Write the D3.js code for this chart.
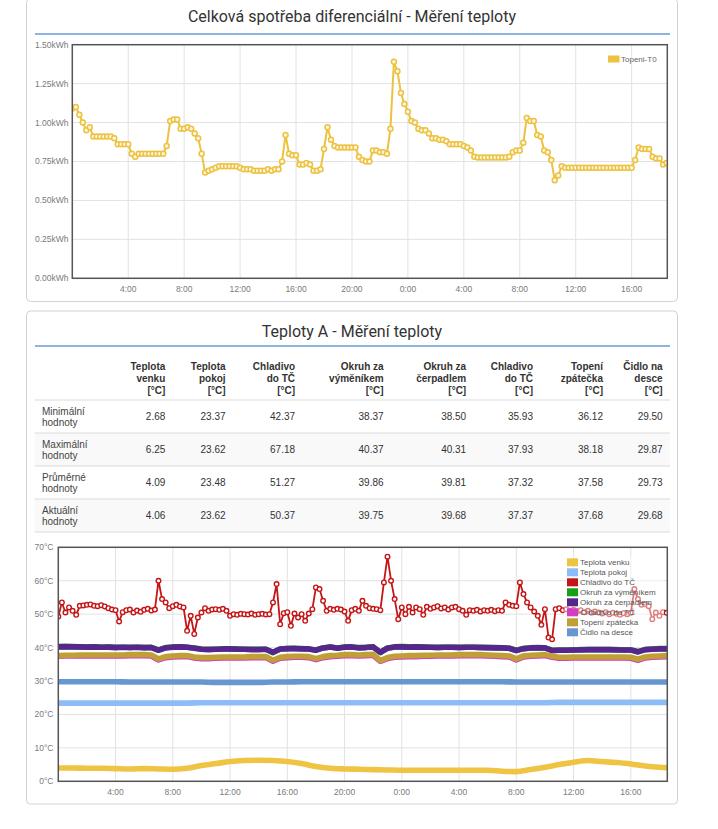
<!DOCTYPE html>
<html><head><meta charset="utf-8">
<script src="https://cdn.jsdelivr.net/npm/d3@7/dist/d3.min.js"></script>
<style>
body{margin:0;background:#fff;}
svg{display:block;font-family:"Liberation Sans",Arial,sans-serif;}
</style>
</head><body>
<svg id="c" width="718" height="829"></svg>
<script>
// ---------------- DATA ----------------
const startTime = new Date(2021, 0, 11, 0, 0);
const spanHours = 42.55;

const energyTitle = "Celková spotřeba diferenciální - Měření teploty";
const energySeriesName = "Topeni-T0";
const energyStepMin = 15;
const energyValues = [
1.09,1.10,1.05,1.00,0.95,0.97,0.91,0.91,0.91,0.91,0.91,0.91,0.90,0.86,0.86,0.86,0.86,0.80,0.78,0.80,
0.80,0.80,0.80,0.80,0.80,0.80,0.80,0.85,1.01,1.02,1.02,0.96,0.96,0.97,0.96,0.93,0.90,0.80,0.68,0.69,
0.70,0.71,0.72,0.72,0.72,0.72,0.72,0.72,0.71,0.70,0.70,0.70,0.69,0.69,0.69,0.69,0.70,0.69,0.70,0.70,
0.75,0.92,0.80,0.79,0.79,0.73,0.73,0.74,0.73,0.69,0.69,0.70,0.83,0.97,0.89,0.85,0.84,0.84,0.84,0.84,
0.84,0.84,0.78,0.76,0.75,0.75,0.82,0.82,0.81,0.81,0.80,0.96,1.39,1.33,1.19,1.12,1.07,1.01,1.00,0.96,
0.95,0.95,0.93,0.90,0.90,0.89,0.89,0.88,0.86,0.86,0.86,0.86,0.85,0.84,0.82,0.78,0.775,0.775,0.775,0.775,
0.775,0.775,0.775,0.775,0.775,0.78,0.81,0.82,0.82,0.87,1.03,1.01,1.01,0.92,0.91,0.82,0.81,0.76,0.63,0.66,
0.72,0.71,0.71,0.71,0.71,0.71,0.71,0.71,0.71,0.71,0.71,0.71,0.71,0.71,0.71,0.71,0.71,0.71,0.71,0.71,
0.71,0.76,0.84,0.83,0.83,0.83,0.78,0.77,0.77,0.73,0.74
];
const energyTicks = [0, 0.25, 0.5, 0.75, 1.0, 1.25, 1.5];

const tempTitle = "Teploty A - Měření teploty";
const tempTicks = [0, 10, 20, 30, 40, 50, 60, 70];

const seriesNames = ["Teplota venku","Teplota pokoj","Chladivo do TČ","Okruh za výměníkem","Okruh za čerpadlem","Chladivo do TČ","Topení zpátečka","Čidlo na desce"];
const seriesColors = ["#efc443","#8cbdf7","#c41616","#15a015","#56258e","#d33cc4","#c0a036","#6797d0"];
const seriesStepMin = [60, 60, 15, 30, 30, 30, 30, 60];

const venku = [4.0,4.0,3.9,3.9,3.8,3.7,3.8,3.7,3.6,3.9,4.7,5.3,5.9,6.2,6.3,6.2,5.9,5.3,4.4,3.9,3.7,3.6,3.5,3.4,3.3,3.3,3.3,3.3,3.3,3.3,3.3,3.0,2.9,3.5,4.2,5.0,5.7,6.2,5.9,5.6,5.2,4.6,4.2,4.0];
const pokoj = [23.4,23.4,23.4,23.4,23.4,23.4,23.4,23.4,23.4,23.4,23.5,23.5,23.5,23.5,23.5,23.5,23.5,23.5,23.5,23.5,23.5,23.5,23.5,23.5,23.5,23.5,23.5,23.5,23.5,23.5,23.5,23.5,23.5,23.5,23.5,23.6,23.6,23.6,23.6,23.6,23.6,23.6,23.6,23.6];
const chladivo = [
49.3,53.5,50.5,52.0,51.0,49.8,52.5,52.6,52.8,52.9,52.5,52.4,52.7,52.3,51.8,51.4,51.2,47.8,50.6,51.2,
51.4,50.5,51.1,50.7,51.3,51.6,51.1,51.4,60.0,54.5,53.5,51.8,52.4,52.8,52.3,52.0,45.0,49.5,44.1,49.0,
50.5,51.8,51.0,51.4,51.5,51.3,51.6,51.0,49.5,50.0,49.8,50.1,50.0,49.9,50.2,49.8,50.0,50.1,49.9,50.0,
53.5,59.0,47.0,50.3,50.6,46.5,50.2,49.0,50.0,48.0,50.2,51.5,58.0,57.5,54.0,51.0,51.6,51.3,51.6,51.4,
50.8,48.0,51.2,51.6,51.0,54.0,52.5,51.8,51.6,51.5,51.2,59.5,67.2,60.0,54.5,48.5,52.0,50.0,52.2,50.5,
52.0,51.5,49.8,52.2,51.6,52.0,52.4,51.7,52.0,51.4,52.0,52.2,51.5,51.0,49.8,51.2,51.0,51.3,50.8,51.2,
51.0,51.3,50.9,51.2,51.0,53.5,52.8,52.5,52.4,59.5,56.0,53.5,52.0,50.8,49.5,46.8,51.5,43.0,42.5,51.5,
51.8,51.2,51.5,51.0,51.3,50.8,51.2,50.6,51.0,50.4,50.8,50.5,50.2,50.6,50.0,50.4,50.1,49.8,50.3,50.0,
50.4,57.5,54.5,52.8,53.0,52.4,48.5,50.5,49.5,50.6,50.4
];
const vymenik = [
40.3,40.3,40.3,40.2,40.2,40.2,40.1,40.2,40.1,40.1,
40.1,40.1,40.0,40.1,39.3,40.0,40.2,40.2,40.1,39.9,
39.6,39.5,39.5,39.6,39.6,39.6,39.5,39.5,39.5,39.5,
38.5,39.6,39.7,39.8,39.7,39.6,39.3,39.9,40.2,39.9,
40.2,40.2,40.0,40.1,40.2,38.5,39.9,40.2,40.3,40.2,
40.2,40.2,40.1,40.1,40.1,40.1,40.1,40.1,40.1,40.1,
40.0,40.0,39.9,39.8,39.2,39.7,39.9,40.0,39.9,39.2,
39.3,39.3,39.3,39.4,39.4,39.4,39.4,39.4,39.4,39.3,
39.3,38.8,39.4,39.6,39.7,39.7,39.7
];
const cerpadlo = [
40.2,40.3,40.2,40.2,40.1,40.2,40.1,40.1,40.0,40.1,
40.0,40.1,40.0,40.0,39.2,39.9,40.1,40.2,40.1,39.8,
39.5,39.4,39.5,39.6,39.6,39.5,39.5,39.4,39.4,39.5,
38.6,39.6,39.7,39.7,39.6,39.6,39.2,39.9,40.2,39.8,
40.1,40.2,39.9,40.0,40.2,38.6,39.8,40.2,40.2,40.1,
40.2,40.1,40.1,40.0,40.1,40.1,40.0,40.1,40.1,40.0,
40.0,39.9,39.9,39.8,39.1,39.7,39.9,39.9,39.9,39.1,
39.2,39.2,39.3,39.3,39.4,39.4,39.4,39.4,39.3,39.3,
39.3,38.7,39.4,39.5,39.6,39.6,39.6
];
const chladivo2 = [
37.4,37.5,37.5,37.5,37.5,37.5,37.5,37.5,37.5,37.5,
37.6,37.6,37.6,37.5,36.3,37.0,37.2,37.3,37.3,36.9,
36.7,36.7,36.8,36.9,36.9,36.9,36.9,37.0,37.0,37.0,
35.9,36.8,37.0,37.1,37.1,37.0,36.4,37.0,37.3,37.4,
37.6,37.6,37.5,37.6,37.7,35.9,36.7,37.1,37.2,37.3,
37.3,37.4,37.4,37.5,37.5,37.5,37.6,37.6,37.6,37.6,
37.5,37.4,37.3,37.2,36.3,37.2,37.4,37.5,37.6,37.1,
36.8,36.8,36.9,36.9,36.9,36.9,36.9,36.9,36.9,36.9,
36.8,36.2,36.9,37.1,37.2,37.3,37.3
];
const zpatecka = [
37.6,37.7,37.7,37.8,37.8,37.8,37.8,37.8,37.8,37.8,
37.9,37.9,37.9,37.8,36.6,37.3,37.5,37.6,37.6,37.2,
37.0,37.0,37.1,37.2,37.2,37.2,37.2,37.3,37.3,37.3,
36.2,37.1,37.3,37.4,37.4,37.3,36.7,37.3,37.6,37.7,
37.9,37.9,37.8,37.9,38.0,36.1,37.0,37.4,37.5,37.6,
37.6,37.7,37.7,37.8,37.8,37.8,37.9,37.9,37.9,37.9,
37.8,37.7,37.6,37.5,36.6,37.5,37.7,37.8,37.9,37.4,
37.1,37.1,37.2,37.2,37.2,37.2,37.2,37.2,37.2,37.2,
37.1,36.5,37.2,37.4,37.5,37.6,37.6
];
const deska = [29.8,29.8,29.8,29.8,29.8,29.7,29.7,29.7,29.7,29.7,29.7,29.6,29.6,29.6,29.6,29.7,29.7,29.8,29.8,29.8,29.8,29.8,29.8,29.8,29.8,29.8,29.8,29.8,29.8,29.8,29.8,29.8,29.7,29.7,29.7,29.7,29.7,29.7,29.7,29.7,29.7,29.7,29.7,29.7];
const tempSeries = [venku, pokoj, chladivo, vymenik, cerpadlo, chladivo2, zpatecka, deska];

const tableHeaders = [["Teplota","venku","[°C]"],["Teplota","pokoj","[°C]"],["Chladivo","do TČ","[°C]"],["Okruh za","výměníkem","[°C]"],["Okruh za","čerpadlem","[°C]"],["Chladivo","do TČ","[°C]"],["Topení","zpátečka","[°C]"],["Čidlo na","desce","[°C]"]];
const tableRowLabels = [["Minimální","hodnoty"],["Maximální","hodnoty"],["Průměrné","hodnoty"],["Aktuální","hodnoty"]];
const tableValues = [
["2.68","23.37","42.37","38.37","38.50","35.93","36.12","29.50"],
["6.25","23.62","67.18","40.37","40.31","37.93","38.18","29.87"],
["4.09","23.48","51.27","39.86","39.81","37.32","37.58","29.73"],
["4.06","23.62","50.37","39.75","39.68","37.37","37.68","29.68"]
];

// ---------------- LAYOUT ----------------
const svg = d3.select("#c");
const endTime = new Date(+startTime + spanHours * 3600e3);
const tfmt = d3.timeFormat("%-H:%M");
const axisFont = "8.5px";
const axisColor = "#7a7a7a";

function panel(y0, y1, title, baseline, lineY) {
  svg.append("rect").attr("x", 26.5).attr("y", y0).attr("width", 651).attr("height", y1 - y0)
    .attr("rx", 4).attr("fill", "#fff").attr("stroke", "#d2d2d2");
  svg.append("text").attr("x", 352).attr("y", baseline).attr("text-anchor", "middle")
    .style("font-family", "Roboto, 'Liberation Sans', sans-serif").style("font-size", "16px").attr("fill", "#333").text(title);
  svg.append("line").attr("x1", 35).attr("x2", 670).attr("y1", lineY).attr("y2", lineY)
    .attr("stroke", "#8db4e2").attr("stroke-width", 2);
}
panel(-1.5, 301.5, energyTitle, 21.5, 34);
panel(311, 804, tempTitle, 336.5, 346);

function plotFrame(id, x, y, yTicks, yFmt, labelX, xLabelY) {
  const [x0, x1] = x.range(), [yb, yt] = y.range();
  const g = svg.append("g");
  const xt = x.ticks(d3.timeHour.every(4)).filter(t => +t > +startTime + 60e3 && +t < +endTime);
  g.selectAll(".hg").data(yTicks).join("line").attr("x1", x0).attr("x2", x1)
    .attr("y1", d => y(d)).attr("y2", d => y(d)).attr("stroke", "#e2e2e2");
  g.selectAll(".vg").data(xt).join("line").attr("x1", d => x(d)).attr("x2", d => x(d))
    .attr("y1", yt).attr("y2", yb).attr("stroke", "#e2e2e2");
  g.selectAll(".yl").data(yTicks).join("text").attr("x", labelX).attr("y", d => y(d)).attr("dy", "0.35em")
    .attr("text-anchor", "end").style("font-size", axisFont).attr("fill", axisColor).text(yFmt);
  g.selectAll(".xl").data(xt).join("text").attr("x", d => x(d)).attr("y", xLabelY)
    .attr("text-anchor", "middle").style("font-size", axisFont).attr("fill", axisColor).text(tfmt);
  svg.append("clipPath").attr("id", id).append("rect").attr("x", x0).attr("y", yt).attr("width", x1 - x0).attr("height", yb - yt);
}
function border(x, y) {
  const [x0, x1] = x.range(), [yb, yt] = y.range();
  svg.append("rect").attr("x", x0).attr("y", yt).attr("width", x1 - x0).attr("height", yb - yt)
    .attr("fill", "none").attr("stroke", "#555").attr("stroke-width", 1.5);
}
const toPoints = (vals, stepMin) => vals.map((v, i) => ({t: new Date(+startTime + i * stepMin * 60e3), v}));

// ---- top chart ----
const xE = d3.scaleTime().domain([startTime, endTime]).range([72.3, 667.3]);
const yE = d3.scaleLinear().domain([0, 1.5]).range([278.3, 44.7]);
plotFrame("clipE", xE, yE, energyTicks, d => d3.format(".2f")(d) + "kWh", 68.5, 292);
const ePts = toPoints(energyValues, energyStepMin);
const gE = svg.append("g").attr("clip-path", "url(#clipE)");
gE.append("path").datum(ePts).attr("fill", "none").attr("stroke", "#edc240").attr("stroke-width", 2)
  .attr("d", d3.line().x(d => xE(d.t)).y(d => yE(d.v)));
gE.selectAll("circle").data(ePts).join("circle").attr("cx", d => xE(d.t)).attr("cy", d => yE(d.v))
  .attr("r", 2.5).attr("fill", "#fdf6e0").attr("stroke", "#edc240").attr("stroke-width", 1.5);
border(xE, yE);
svg.append("rect").attr("x", 608).attr("y", 55.5).attr("width", 11.5).attr("height", 7).attr("fill", "#edc240");
svg.append("text").attr("x", 621).attr("y", 59).attr("dy", "0.35em").style("font-size", "8px").attr("fill", "#666").text(energySeriesName);

// ---- table ----
const colRight = [165.3, 225.6, 295.1, 383.6, 466.2, 533, 603, 662.7];
const rowTop = [400, 433, 466, 499, 532];
const gT = svg.append("g");
[1, 3].forEach(r => gT.append("rect").attr("x", 34.5).attr("y", rowTop[r]).attr("width", 635.5).attr("height", rowTop[r + 1] - rowTop[r]).attr("fill", "#f9f9f9"));
rowTop.forEach(y => gT.append("line").attr("x1", 34.5).attr("x2", 670).attr("y1", y).attr("y2", y).attr("stroke", "#dcdcdc").attr("stroke-width", 1.2));
tableHeaders.forEach((lines, c) => {
  lines.forEach((s, k) => gT.append("text").attr("x", colRight[c]).attr("y", 370.3 + k * 11.7)
    .attr("text-anchor", "end").style("font-size", "10px").style("font-weight", "bold").attr("fill", "#333").text(s));
});
tableRowLabels.forEach((lines, r) => {
  const cy = (rowTop[r] + rowTop[r + 1]) / 2;
  lines.forEach((s, k) => gT.append("text").attr("x", 42).attr("y", cy - 2 + k * 11)
    .style("font-size", "10px").attr("fill", "#444").text(s));
  tableValues[r].forEach((v, c) => gT.append("text").attr("x", colRight[c]).attr("y", cy + 3.6)
    .attr("text-anchor", "end").style("font-size", "10px").attr("fill", "#333").text(v));
});

// ---- bottom chart ----
const xT = d3.scaleTime().domain([startTime, endTime]).range([58.3, 667.3]);
const yT = d3.scaleLinear().domain([0, 70]).range([781.3, 547.3]);
plotFrame("clipT", xT, yT, tempTicks, d => d + "°C", 53.5, 794.5);
const gS = svg.append("g").attr("clip-path", "url(#clipT)");
tempSeries.forEach((vals, s) => {
  const pts = toPoints(vals, seriesStepMin[s]);
  const isRed = s === 2;
  const line = d3.line().x(d => xT(d.t)).y(d => yT(d.v));
  if (seriesStepMin[s] === 60) line.curve(d3.curveMonotoneX);
  gS.append("path").datum(pts).attr("fill", "none").attr("stroke", seriesColors[s])
    .attr("stroke-width", isRed ? 1.8 : 5.6).attr("stroke-linejoin", "round").attr("stroke-linecap", "round")
    .attr("d", line);
  if (isRed) {
    gS.selectAll(".rp").data(pts).join("circle").attr("cx", d => xT(d.t)).attr("cy", d => yT(d.v))
      .attr("r", 2.3).attr("fill", "#fff").attr("stroke", seriesColors[s]).attr("stroke-width", 1.4);
  }
});
// legend
const lg = svg.append("g");
lg.append("rect").attr("x", 564).attr("y", 556).attr("width", 100).attr("height", 82).attr("fill", "#fff").attr("opacity", 0.45);
seriesNames.forEach((n, i) => {
  const cy = 562.3 + i * 10;
  lg.append("rect").attr("x", 567).attr("y", cy - 4).attr("width", 11).attr("height", 8).attr("fill", seriesColors[i]);
  lg.append("text").attr("x", 580).attr("y", cy).attr("dy", "0.35em").style("font-size", "8px").attr("fill", "#555").text(n);
});
border(xT, yT);
</script>
</body></html>
